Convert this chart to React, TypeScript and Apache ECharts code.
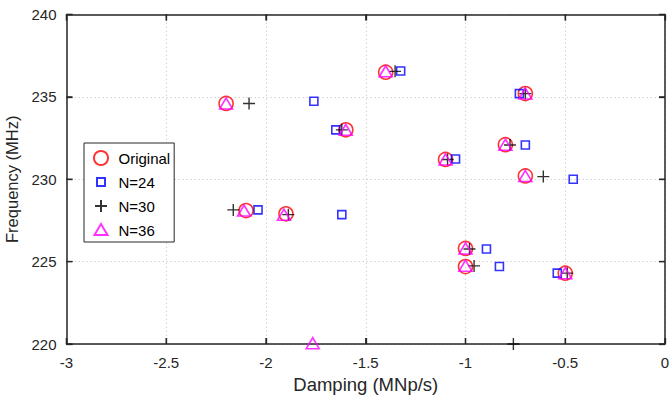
import React, { useEffect, useRef } from "react";
import * as echarts from "echarts";

const xTickValues = [-3, -2.5, -2, -1.5, -1, -0.5, 0];
const yTickValues = [220, 225, 230, 235, 240];

const seriesNames = ["Original", "N=24", "N=30", "N=36"];

const originalX = [-2.2, -1.6, -1.4, -0.7, -0.8, -1.1, -0.7, -2.1, -1.9, -1.0, -1.0, -0.5];
const originalY = [234.6, 233.0, 236.5, 235.2, 232.1, 231.2, 230.2, 228.1, 227.9, 225.8, 224.7, 224.3];

const n24X = [-1.76, -1.65, -1.325, -0.73, -0.7, -1.05, -0.46, -2.04, -1.62, -0.895, -0.83, -0.54];
const n24Y = [234.73, 233.0, 236.57, 235.2, 232.08, 231.23, 230.0, 228.14, 227.85, 225.77, 224.7, 224.3];

const n30X = [-2.085, -1.62, -1.353, -0.7, -0.777, -1.09, -0.61, -2.164, -1.888, -0.98, -0.957, -0.49, -0.76];
const n30Y = [234.6, 233.0, 236.55, 235.2, 232.08, 231.2, 230.16, 228.14, 227.85, 225.77, 224.74, 224.3, 220.0];

const n36X = [-2.2, -1.6, -1.4, -0.7, -0.8, -1.1, -0.7, -2.11, -1.91, -1.0, -1.0, -0.5, -1.766];
const n36Y = [234.6, 233.0, 236.55, 235.2, 232.1, 231.2, 230.2, 228.1, 227.85, 225.8, 224.75, 224.3, 220.05];

const zip = (xs: number[], ys: number[]) => xs.map((x, i) => [x, ys[i]]);

const FONT = "Liberation Sans, Arial, Helvetica, sans-serif";
const AXIS = "#262626";

const PLUS = "path://M0,-6L0,6M-6,0L6,0";
const TRI = "path://M0,-6L6.5,5L-6.5,5Z";
const LEG_SQUARE = "path://M-7,-7M7,7M-4,-4L4,-4L4,4L-4,4Z";
const LEG_PLUS = "path://M-7,-7M7,7M0,-6L0,6M-6,0L6,0";
const LEG_TRI = "path://M-7,-7M7,7M0,-6L6.5,5L-6.5,5Z";
const TICK_LEN = 6;

export default function App() {
  const ref = useRef<HTMLDivElement>(null);
  useEffect(() => {
    if (!ref.current) return;
    const chart = echarts.init(ref.current, null, { renderer: "svg" });
    const xMin = xTickValues[0];
    const xMax = xTickValues[xTickValues.length - 1];
    const xInt = xTickValues[1] - xTickValues[0];
    const yMin = yTickValues[0];
    const yMax = yTickValues[yTickValues.length - 1];
    const yInt = yTickValues[1] - yTickValues[0];
    const lineSt = { show: true, onZero: false, lineStyle: { color: AXIS, width: 1.5 } };
    const gridLine = { show: true, lineStyle: { color: "#d4d4d4", type: [1.5, 2.5], width: 1 } };
    chart.setOption({
      animation: false,
      backgroundColor: "#fff",
      textStyle: { fontFamily: FONT },
      grid: {
        left: 66.5,
        right: 4,
        top: 14.5,
        bottom: 55,
        containLabel: false,
        outerBoundsMode: "none",
        show: false,
      },
      legend: {
        show: true,
        orient: "vertical",
        left: 84,
        top: 143,
        selectedMode: false,
        itemWidth: 25,
        itemHeight: 14,
        itemGap: 5,
        padding: [5.5, 4, 2.5, 7.5],
        borderColor: AXIS,
        borderWidth: 1,
        borderRadius: 0,
        backgroundColor: "#fff",
        textStyle: { fontSize: 15, color: "#000", fontFamily: FONT, lineHeight: 14 },
        data: [
          { name: seriesNames[0], icon: "circle" },
          { name: seriesNames[1], icon: LEG_SQUARE },
          { name: seriesNames[2], icon: LEG_PLUS },
          { name: seriesNames[3], icon: LEG_TRI },
        ],
      },
      xAxis: [
        {
          type: "value",
          position: "bottom",
          min: xMin,
          max: xMax,
          interval: xInt,
          name: "Damping (MNp/s)",
          nameLocation: "middle",
          nameGap: 31,
          nameTextStyle: { fontSize: 18.5, color: AXIS, fontFamily: FONT },
          axisLine: lineSt,
          axisTick: { show: true, inside: true, length: TICK_LEN, lineStyle: { color: AXIS, width: 1.3 } },
          axisLabel: { fontSize: 15, color: AXIS, margin: 11, fontFamily: FONT },
          splitLine: gridLine,
        },
        {
          type: "value",
          position: "top",
          min: xMin,
          max: xMax,
          interval: xInt,
          axisLine: lineSt,
          axisTick: { show: true, inside: true, length: TICK_LEN, lineStyle: { color: AXIS, width: 1.3 } },
          axisLabel: { show: false },
          splitLine: { show: false },
        },
      ],
      yAxis: [
        {
          type: "value",
          position: "left",
          min: yMin,
          max: yMax,
          interval: yInt,
          name: "Frequency (MHz)",
          nameLocation: "middle",
          nameGap: 40,
          nameTextStyle: { fontSize: 16.5, color: AXIS, fontFamily: FONT },
          axisLine: lineSt,
          axisTick: { show: true, inside: true, length: TICK_LEN, lineStyle: { color: AXIS, width: 1.3 } },
          axisLabel: { fontSize: 15, color: AXIS, margin: 10, fontFamily: FONT },
          splitLine: gridLine,
        },
        {
          type: "value",
          position: "right",
          min: yMin,
          max: yMax,
          interval: yInt,
          axisLine: lineSt,
          axisTick: { show: true, inside: true, length: TICK_LEN, lineStyle: { color: AXIS, width: 1.3 } },
          axisLabel: { show: false },
          splitLine: { show: false },
        },
      ],
      series: [
        {
          name: seriesNames[0],
          type: "scatter",
          symbol: "circle",
          symbolSize: 14,
          z: 3,
          itemStyle: { color: "none", borderColor: "#ff0000", borderWidth: 1.6 },
          data: zip(originalX, originalY),
        },
        {
          name: seriesNames[1],
          type: "scatter",
          symbol: "rect",
          symbolSize: 8,
          z: 4,
          itemStyle: { color: "none", borderColor: "#0000ff", borderWidth: 1.6 },
          data: zip(n24X, n24Y),
        },
        {
          name: seriesNames[2],
          type: "scatter",
          symbol: PLUS,
          symbolSize: 12,
          z: 5,
          itemStyle: { color: "none", borderColor: "#000000", borderWidth: 1.4 },
          data: zip(n30X, n30Y),
        },
        {
          name: seriesNames[3],
          type: "scatter",
          symbol: TRI,
          symbolSize: [13, 11],
          z: 6,
          itemStyle: { color: "none", borderColor: "#ff00ff", borderWidth: 1.6 },
          data: zip(n36X, n36Y),
        },
      ],
    });

    // Tick marks placed through the chart's own scale (convertToPixel).
    const px = (v: number[]) => chart.convertToPixel({ gridIndex: 0 }, v) as number[];
    const tickStyle = { stroke: AXIS, lineWidth: 1.3 };
    const ticks: any[] = [];
    xTickValues.forEach((v) => {
      const b = px([v, yMin]);
      const t = px([v, yMax]);
      ticks.push({ type: "line", silent: true, z: 50, shape: { x1: b[0], y1: b[1], x2: b[0], y2: b[1] - TICK_LEN }, style: tickStyle });
      ticks.push({ type: "line", silent: true, z: 50, shape: { x1: t[0], y1: t[1], x2: t[0], y2: t[1] + TICK_LEN }, style: tickStyle });
    });
    yTickValues.forEach((v) => {
      const l = px([xMin, v]);
      const r = px([xMax, v]);
      ticks.push({ type: "line", silent: true, z: 50, shape: { x1: l[0], y1: l[1], x2: l[0] + TICK_LEN, y2: l[1] }, style: tickStyle });
      ticks.push({ type: "line", silent: true, z: 50, shape: { x1: r[0], y1: r[1], x2: r[0] - TICK_LEN, y2: r[1] }, style: tickStyle });
    });
    if (ticks.every((t) => isFinite(t.shape.x1) && isFinite(t.shape.y1))) {
      chart.setOption({ graphic: { elements: ticks } });
    }
    return () => chart.dispose();
  }, []);
  return (
    <div
      ref={ref}
      style={{ position: "fixed", left: 0, top: 0, width: 669, height: 399, background: "#fff" }}
    />
  );
}
